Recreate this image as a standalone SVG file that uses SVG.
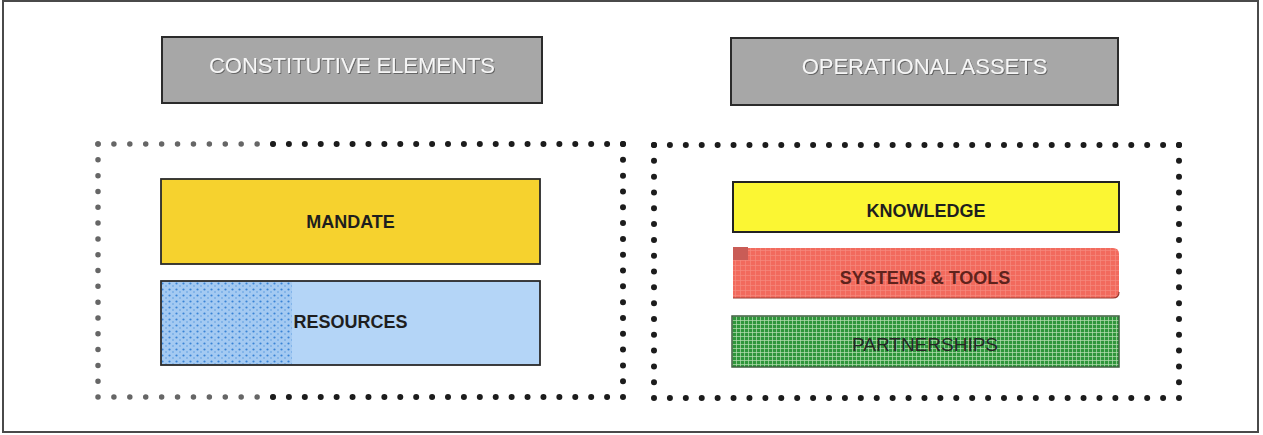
<svg xmlns="http://www.w3.org/2000/svg" width="1263" height="435" viewBox="0 0 1263 435">
  <style>
    .hdr { fill: #a7a7a7; stroke: #2b2b2b; stroke-width: 2; }
    .hdrtxt { font-family: "Liberation Sans", Arial, sans-serif; font-size: 22px; fill: #f6f6f6; text-anchor: middle; filter: url(#shadow); }
    .lbl { font-family: "Liberation Sans", Arial, sans-serif; font-size: 18px; font-weight: bold; fill: #1e1e1e; text-anchor: middle; }
    .dots { fill: none; stroke: #1c1c1c; stroke-width: 6; stroke-linecap: round; }
    .dots.gray { stroke: #666666; stroke-width: 5.5; }
    .h { stroke-dasharray: 0 15.909; }
    .v { stroke-dasharray: 0 15.8125; }
  </style>
  <defs>
    <filter id="shadow" x="-5%" y="-30%" width="110%" height="160%">
      <feDropShadow dx="1" dy="1" stdDeviation="0.6" flood-color="#555" flood-opacity="0.8"/>
    </filter>
    <pattern id="greenGrid" width="4" height="4" patternUnits="userSpaceOnUse">
      <rect width="4" height="4" fill="#2f963b"/>
      <path d="M0 0.5H4M0.5 0V4" stroke="#b9e0b4" stroke-width="0.7"/>
    </pattern>
    <pattern id="redGrid" width="5" height="5" patternUnits="userSpaceOnUse">
      <rect width="5" height="5" fill="#f26a5d"/>
      <path d="M0.5 0V5M0 0.5H5" stroke="#f58a7e" stroke-width="0.7"/>
    </pattern>
    <pattern id="blueSpeckle" width="7" height="6" patternUnits="userSpaceOnUse">
      <rect width="7" height="6" fill="#a4caf2"/>
      <circle cx="1.5" cy="1.5" r="1.1" fill="#3a84d6"/>
      <circle cx="5" cy="4" r="0.8" fill="#5a9be0"/>
    </pattern>
  </defs>

  <rect x="0" y="0" width="1263" height="435" fill="#ffffff"/>
  <rect id="frame" x="3" y="1" width="1255" height="431" fill="none" stroke="#4a4a4a" stroke-width="2"/>

  <g id="constitutive-elements">
    <rect class="hdr" x="162" y="37" width="380" height="66"/>
    <text class="hdrtxt" x="352" y="73">CONSTITUTIVE ELEMENTS</text>
  </g>

  <g id="operational-assets">
    <rect class="hdr" x="731" y="38" width="387" height="67"/>
    <text class="hdrtxt" x="924.5" y="74">OPERATIONAL ASSETS</text>
  </g>

  <g id="constitutive-group">
    <path class="dots gray h" d="M98 144H273"/>
    <path class="dots h" d="M273 144H623"/>
    <path class="dots gray h" d="M98 397H273"/>
    <path class="dots h" d="M273 397H623"/>
    <path class="dots gray v" d="M98 144V397"/>
    <path class="dots v" d="M623 144V397"/>
  </g>

  <g id="operational-group">
    <path class="dots h" d="M654 145H1179"/>
    <path class="dots h" d="M654 398H1179"/>
    <path class="dots v" d="M654 145V398"/>
    <path class="dots v" d="M1179 145V398"/>
  </g>

  <g id="mandate">
    <rect x="161" y="179" width="379" height="85" fill="#f6d22e" stroke="#2a2a2a" stroke-width="1.8"/>
    <text class="lbl" x="350.5" y="228">MANDATE</text>
  </g>

  <g id="resources">
    <rect x="161" y="281" width="379" height="84" fill="#b4d5f7"/>
    <rect x="162" y="282" width="130" height="82" fill="url(#blueSpeckle)"/>
    <rect x="161" y="281" width="379" height="84" fill="none" stroke="#2a2a2a" stroke-width="1.8"/>
    <text class="lbl" x="350.5" y="328">RESOURCES</text>
  </g>

  <g id="knowledge">
    <rect x="733" y="182" width="386" height="50" fill="#fbf633" stroke="#222" stroke-width="2"/>
    <text class="lbl" x="926" y="217" font-size="18.5">KNOWLEDGE</text>
  </g>

  <g id="systems-tools">
    <path d="M733 248H1113Q1119 248 1119 254V292Q1119 298 1113 298H733Z" fill="url(#redGrid)"/>
    <path d="M733 298H1113Q1119 298 1119 292" fill="none" stroke="#9a3a30" stroke-width="1.2"/>
    <rect x="733" y="247" width="15" height="13" fill="#c95c56"/>
    <text class="lbl" x="925" y="284" style="fill:#5e231c">SYSTEMS &amp; TOOLS</text>
  </g>

  <g id="partnerships">
    <rect x="732" y="316" width="387" height="51" fill="url(#greenGrid)" stroke="#3f5f40" stroke-width="1.5"/>
    <text x="925" y="351" font-family="'Liberation Sans', Arial, sans-serif" font-size="19" fill="#262626" text-anchor="middle">PARTNERSHIPS</text>
  </g>

  <g id="connectors"/>
</svg>
